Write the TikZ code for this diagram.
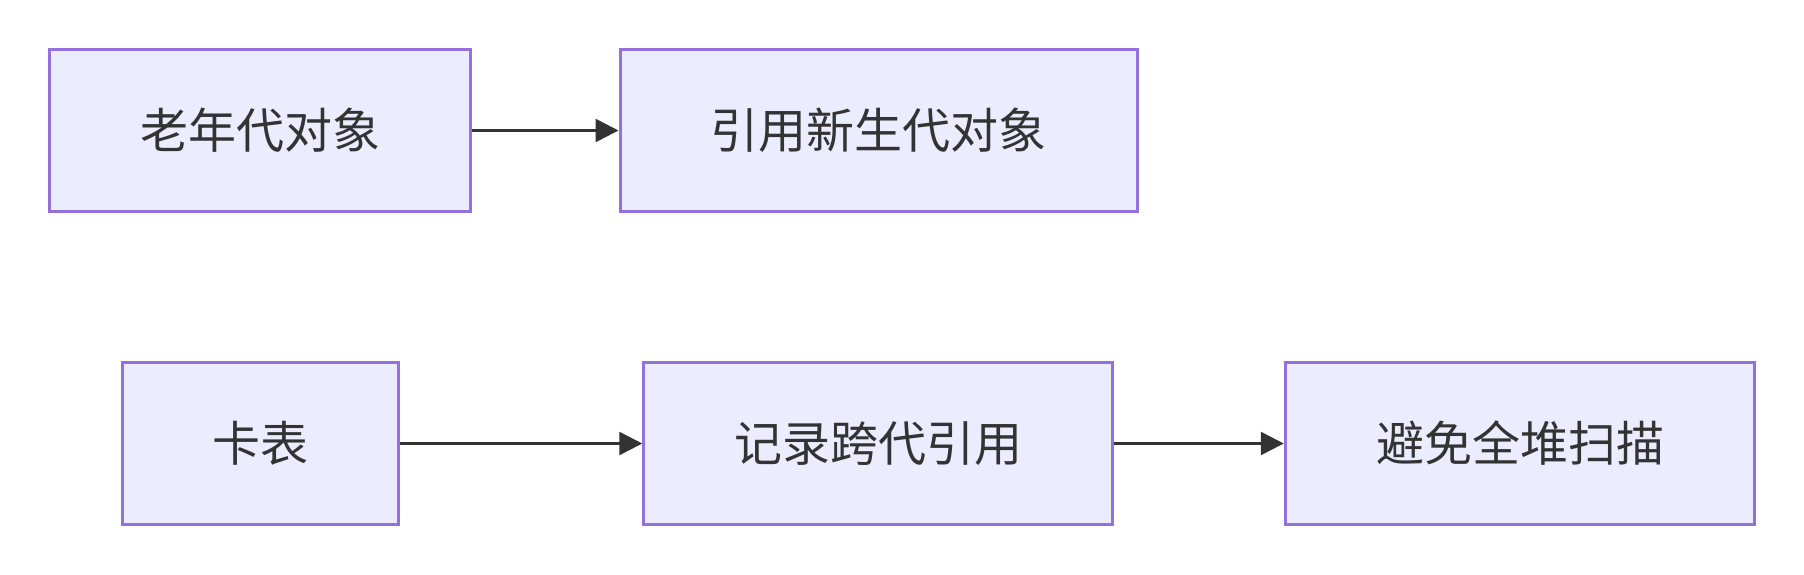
\documentclass[tikz,border=0pt]{standalone}
\usepackage{fontspec}
\setmainfont{Noto Sans CJK SC}
\usetikzlibrary{arrows.meta}
\definecolor{boxfill}{HTML}{ECECFF}
\definecolor{boxline}{HTML}{9370DB}
\definecolor{ink}{HTML}{333333}
\tikzset{
  box/.style={rectangle,draw=boxline,fill=boxfill,line width=1.5pt,
    inner sep=0pt,minimum height=81pt,text=ink,
    font=\fontsize{24}{29}\selectfont},
  flow/.style={draw=ink,line width=1.3pt,-{Triangle[length=11.5pt,width=11.5pt]}}
}
\begin{document}
\begin{tikzpicture}[x=0.5pt,y=-0.5pt]
  \useasboundingbox (0,0) rectangle (1804,574);

  \begin{scope}[every node/.style={box}]
    \node[minimum width=210.5pt]  (old)    at (260,130.5)  {老年代对象};
    \node[minimum width=258.5pt]  (young)  at (878.5,130.5) {引用新生代对象};
    \node[minimum width=138pt]    (card)   at (260,443.5)  {卡表};
    \node[minimum width=234.25pt] (record) at (878,443.5)  {记录跨代引用};
    \node[minimum width=234.75pt] (avoid)  at (1520,443.5) {避免全堆扫描};
  \end{scope}

  \begin{scope}[every edge/.style={flow}]
    \path (old)    edge (young);
    \path (card)   edge (record);
    \path (record) edge (avoid);
  \end{scope}

\end{tikzpicture}
\end{document}
